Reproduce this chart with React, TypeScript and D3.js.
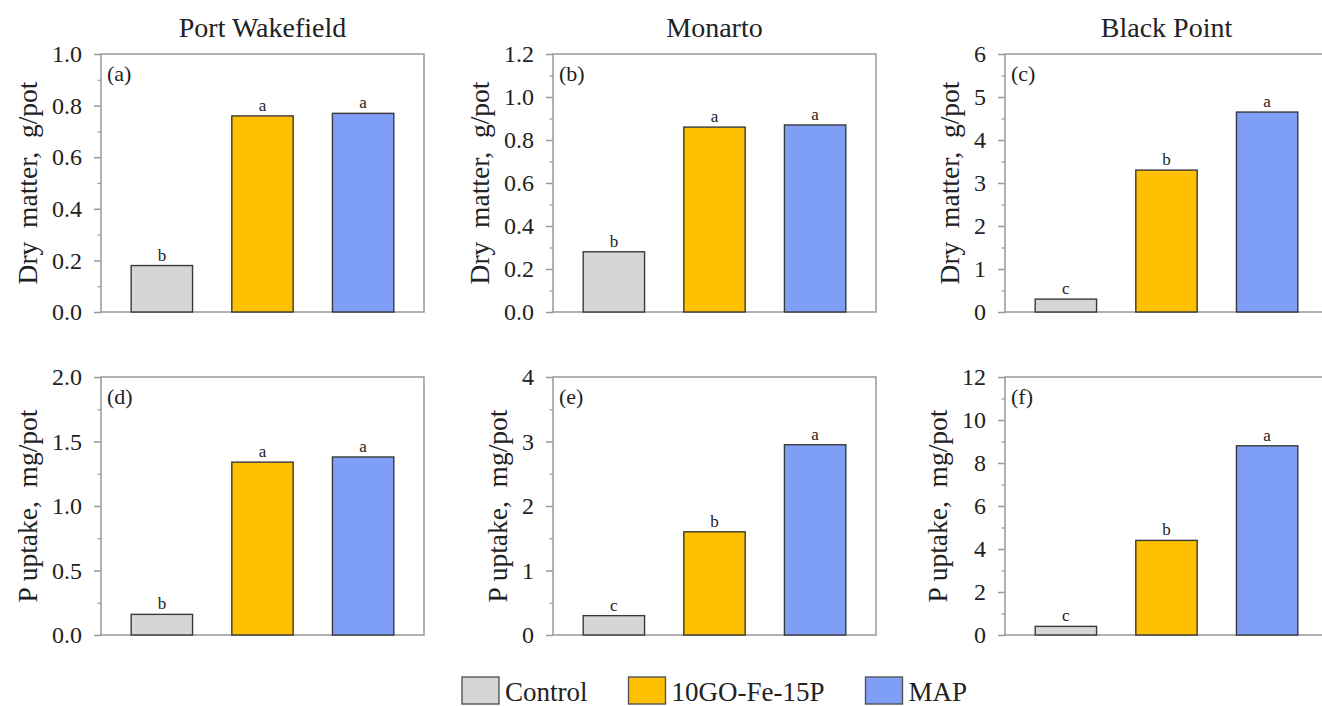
import React, { useEffect, useRef } from 'react';
import * as d3 from 'd3';

const sites = ['Port Wakefield', 'Monarto', 'Black Point'];
const treatments = ['Control', '10GO-Fe-15P', 'MAP'];
const treatmentColors = ['#d6d6d6', '#ffc000', '#7f9ef6'];

// dry matter, g/pot (rows = sites, cols = treatments)
const dryMatter = [
  [0.18, 0.76, 0.77],
  [0.28, 0.86, 0.87],
  [0.3, 3.3, 4.65],
];
const dryMatterLetters = [
  ['b', 'a', 'a'],
  ['b', 'a', 'a'],
  ['c', 'b', 'a'],
];
const dryMatterMax = [1.0, 1.2, 6];
const dryMatterStep = [0.2, 0.2, 1];

// P uptake, mg/pot
const pUptake = [
  [0.16, 1.34, 1.38],
  [0.3, 1.6, 2.95],
  [0.4, 4.4, 8.8],
];
const pUptakeLetters = [
  ['b', 'a', 'a'],
  ['c', 'b', 'a'],
  ['c', 'b', 'a'],
];
const pUptakeMax = [2, 4, 12];
const pUptakeStep = [0.5, 1, 2];

const panelTags = [['(a)', '(b)', '(c)'], ['(d)', '(e)', '(f)']];

const FONT = "'Liberation Serif', 'Times New Roman', serif";

const App = () => {
  const svgRef = useRef<SVGSVGElement>(null);

  useEffect(() => {
    const svg = d3.select(svgRef.current);
    svg.selectAll('*').remove();

    const panelLeft = [101, 553, 1005];
    const rowTop = [54, 377];
    const pw = 323;
    const ph = 258;
    const axisColor = '#999';
    const textColor = '#222';

    const rows = [
      { values: dryMatter, letters: dryMatterLetters, max: dryMatterMax, step: dryMatterStep, label: 'Dry  matter,  g/pot' },
      { values: pUptake, letters: pUptakeLetters, max: pUptakeMax, step: pUptakeStep, label: 'P uptake,  mg/pot' },
    ];

    const x = d3.scaleBand<string>()
      .domain(treatments)
      .range([0, pw])
      .paddingInner(0.39)
      .paddingOuter(0.3);

    rows.forEach((row, r) => {
      sites.forEach((site, c) => {
        const g = svg.append('g')
          .attr('transform', `translate(${panelLeft[c]},${rowTop[r]})`);

        const y = d3.scaleLinear().domain([0, row.max[c]]).range([ph, 0]);
        const step = row.step[c];
        const nMajor = Math.round(row.max[c] / step);
        const majors = d3.range(nMajor + 1).map(i => i * step);
        const minors = d3.range(nMajor).map(i => (i + 0.5) * step);
        const fmt = step < 1 ? d3.format('.1f') : d3.format('d');

        // frame
        g.append('rect')
          .attr('width', pw)
          .attr('height', ph)
          .attr('fill', 'none')
          .attr('stroke', axisColor)
          .attr('stroke-width', 1.5);

        // minor ticks
        const minorAxis = g.append('g')
          .call(d3.axisLeft(y).tickValues(minors).tickSize(3.5).tickFormat(() => ''));
        minorAxis.select('.domain').remove();
        minorAxis.selectAll('line').attr('stroke', axisColor).attr('stroke-width', 1.2);

        // major ticks
        const yAxis = g.append('g')
          .call(d3.axisLeft(y).tickValues(majors).tickSizeInner(7).tickSizeOuter(0).tickPadding(12).tickFormat(d => fmt(d as number)));
        yAxis.attr('font-family', FONT).attr('font-size', 24);
        yAxis.select('.domain').remove();
        yAxis.selectAll('line').attr('stroke', axisColor).attr('stroke-width', 1.5);
        yAxis.selectAll('text').attr('fill', textColor);

        let maxW = 0;
        yAxis.selectAll<SVGTextElement, unknown>('text').each(function () {
          maxW = Math.max(maxW, this.getComputedTextLength());
        });

        // y label
        g.append('text')
          .attr('transform', `translate(${-(19 + maxW + 15)},${ph / 2}) rotate(-90)`)
          .attr('text-anchor', 'middle')
          .style('font-family', FONT)
          .style('font-size', '27.5px')
          .style('white-space', 'pre')
          .attr('fill', textColor)
          .text(row.label);

        // bars
        g.selectAll('rect.bar')
          .data(row.values[c])
          .enter()
          .append('rect')
          .attr('class', 'bar')
          .attr('x', (_, i) => x(treatments[i]) as number)
          .attr('y', d => y(d))
          .attr('width', x.bandwidth())
          .attr('height', d => ph - y(d))
          .attr('fill', (_, i) => treatmentColors[i])
          .attr('stroke', '#3a3a3a')
          .attr('stroke-width', 1.4);

        // significance letters
        g.selectAll('text.sig')
          .data(row.values[c])
          .enter()
          .append('text')
          .attr('class', 'sig')
          .attr('x', (_, i) => (x(treatments[i]) as number) + x.bandwidth() / 2)
          .attr('y', d => y(d) - 5)
          .attr('text-anchor', 'middle')
          .style('font-family', FONT)
          .style('font-size', '17px')
          .attr('fill', textColor)
          .text((_, i) => row.letters[c][i]);

        // panel tag
        g.append('text')
          .attr('x', 6)
          .attr('y', 27)
          .style('font-family', FONT)
          .style('font-size', '22px')
          .attr('fill', textColor)
          .text(panelTags[r][c]);

        // site title
        if (r === 0) {
          g.append('text')
            .attr('x', pw / 2)
            .attr('y', -17)
            .attr('text-anchor', 'middle')
            .style('font-family', FONT)
            .style('font-size', '28px')
            .attr('fill', textColor)
            .text(site);
        }
      });
    });

    // legend
    const boxW = 37;
    const boxH = 27;
    const legend = svg.append('g');
    let cursor = 0;
    treatments.forEach((t, i) => {
      const item = legend.append('g').attr('transform', `translate(${cursor},0)`);
      item.append('rect')
        .attr('width', boxW)
        .attr('height', boxH)
        .attr('fill', treatmentColors[i])
        .attr('stroke', '#555')
        .attr('stroke-width', 1.4);
      const txt = item.append('text')
        .attr('x', boxW + 6)
        .attr('y', boxH - 3)
        .style('font-family', FONT)
        .style('font-size', '27px')
        .attr('fill', textColor)
        .text(t);
      const w = (txt.node() as SVGTextElement).getComputedTextLength();
      cursor += boxW + 6 + w + (i < treatments.length - 1 ? 41 : 0);
    });
    const legendCenter = panelLeft[1] + pw / 2;
    legend.attr('transform', `translate(${legendCenter - cursor / 2},677)`);
  }, []);

  return (
    <svg
      ref={svgRef}
      width={1322}
      height={706}
      style={{ position: 'absolute', left: 0, top: 0, background: '#fff' }}
    />
  );
};

export default App;
